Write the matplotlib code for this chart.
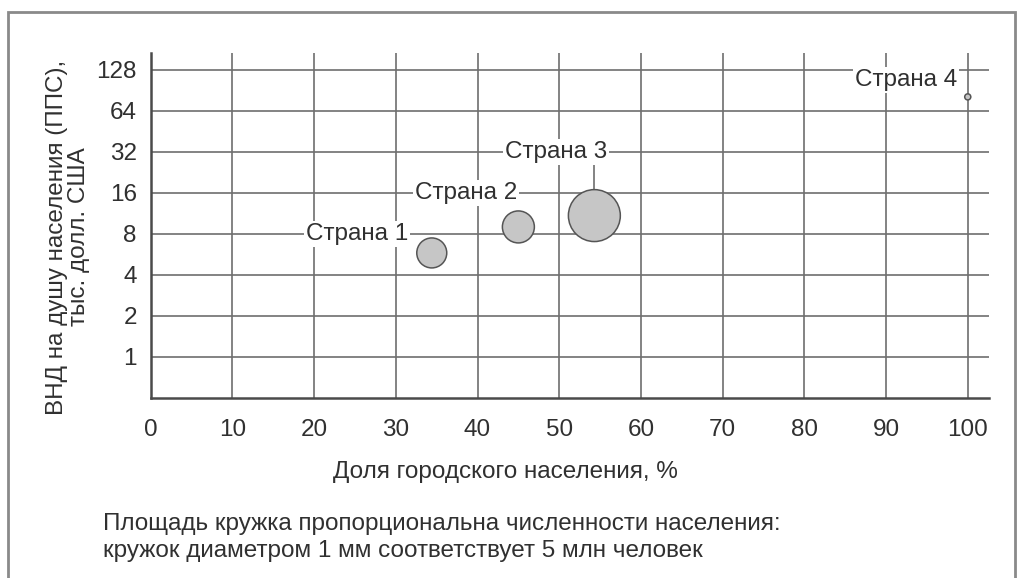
"""Bubble chart: urban population share vs GNI per capita (log2 scale)."""

import matplotlib

matplotlib.use("Agg")
import matplotlib.pyplot as plt
from matplotlib.patches import Rectangle
from matplotlib.ticker import FixedLocator, FixedFormatter, NullLocator

plt.rcParams["font.family"] = ["Liberation Sans", "DejaVu Sans"]

# data
countries = ["Страна 1", "Страна 2", "Страна 3", "Страна 4"]
urban_share = [34.4, 45.0, 54.3, 100.0]        # %
gni_per_capita = [5.8, 9.0, 10.9, 81.0]        # тыс. долл. США (ППС)
population = [290, 330, 870, 12]               # млн человек

y_ticks = [1, 2, 4, 8, 16, 32, 64, 128]
x_ticks = [0, 10, 20, 30, 40, 50, 60, 70, 80, 90, 100]

# label placement (data coords) - layout only
label_pos = [(25.3, 8), (38.6, 16), (49.6, 32), (92.4, 108)]

GRID = "#6e6e6e"
DARK = "#4a4a4a"
FILL = "#c6c6c6"
TEXT = "#303030"
FS = 17.5

W, H, DPI = 1020, 578, 100
fig = plt.figure(figsize=(W / DPI, H / DPI), dpi=DPI)
ax = fig.add_axes([150.7 / W, 1 - 398 / H, (989 - 150.7) / W, (398 - 53) / H])

ax.set_yscale("log", base=2)
ax.set_xlim(0, 102.6)
ax.set_ylim(0.5, 170)

ax.yaxis.set_major_locator(FixedLocator(y_ticks))
ax.yaxis.set_major_formatter(FixedFormatter([str(v) for v in y_ticks]))
ax.yaxis.set_minor_locator(NullLocator())
ax.set_xticks(x_ticks)
ax.tick_params(length=0, labelsize=FS, colors=TEXT)
ax.tick_params(axis="y", pad=10)
ax.tick_params(axis="x", pad=15)

ax.grid(True, color=GRID, lw=1.2, zorder=0)
ax.set_axisbelow(True)
for side in ("top", "right"):
    ax.spines[side].set_visible(False)
for side in ("left", "bottom"):
    ax.spines[side].set_color(DARK)
    ax.spines[side].set_linewidth(1.8)

# bubble area proportional to population: 1 mm diameter = 5 mln people
diam_pt = [(p / 5) ** 0.5 * 72 / 25.4 for p in population]
ax.scatter(urban_share, gni_per_capita, s=[d ** 2 for d in diam_pt],
           c=FILL, edgecolors="#555555", linewidths=1.1, zorder=3, clip_on=False)

for name, (lx, ly) in zip(countries, label_pos):
    ax.text(lx, ly, name, ha="center", va="center", fontsize=FS, color=TEXT,
            zorder=4, bbox=dict(boxstyle="square,pad=0.08", fc="white", ec="none"))

# leader line for Страна 3
ax.plot([urban_share[2], urban_share[2]], [26.5, 13.6], color=GRID, lw=1.2, zorder=2)

fig.text(68 / W, 1 - 237 / H, "ВНД на душу населения (ППС),\nтыс. долл. США",
         rotation=90, ha="center", va="center", multialignment="center",
         fontsize=FS, color=TEXT, linespacing=0.95)
fig.text(333 / W, 1 - 472 / H, "Доля городского населения, %",
         ha="left", va="center", fontsize=FS, color=TEXT)
fig.text(103 / W, 1 - 524 / H, "Площадь кружка пропорциональна численности населения:",
         ha="left", va="center", fontsize=FS, color=TEXT)
fig.text(103 / W, 1 - 551 / H, "кружок диаметром 1 мм соответствует 5 млн человек",
         ha="left", va="center", fontsize=FS, color=TEXT)

# outer frame
fig.add_artist(Rectangle((8 / W, -0.05), (1015 - 8) / W, 1.05 - 12 / H,
                         transform=fig.transFigure, fill=False,
                         ec="#8a8a8a", lw=2.0, clip_on=False))

fig.savefig("out.png", dpi=DPI)
